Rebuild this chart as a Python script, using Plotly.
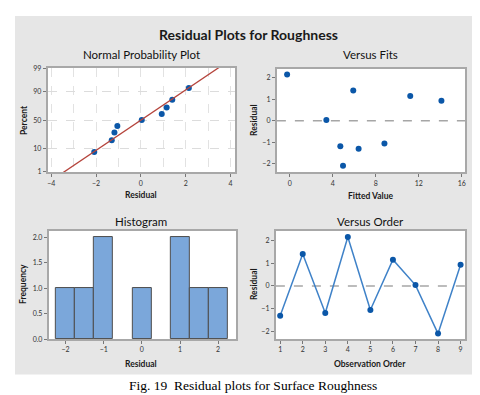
import numpy as np
import plotly.graph_objects as go
from statistics import NormalDist

# ---------------- data ----------------
obs_order = [1, 2, 3, 4, 5, 6, 7, 8, 9]
residuals = [-1.30, 1.40, -1.18, 2.14, -1.05, 1.15, 0.04, -2.08, 0.93]
fitted_values = [6.4, 5.9, 4.7, -0.25, 8.8, 11.2, 3.4, 4.95, 14.1]
prob_percent = [7.45, 18.09, 28.72, 39.36, 50.0, 60.64, 71.28, 81.91, 92.55]
prob_ticks = [1, 10, 50, 90, 99]

W, H = 480, 395
ND = NormalDist()

def px(x):
    return x / W

def py(y):
    return 1 - y / H

BLUE = "#0b57a8"
LINE_BLUE = "#3f82c8"
RED = "#b5443c"
BORDER = "#a8a8a8"
FONT = "Lato"
TICKF = dict(family=FONT, size=7, color="#333")

fig = go.Figure()

# domains (px)
dom = {
    1: ((39, 227), (57, 163)),
    2: ((269, 458), (58, 163)),
    3: ((40, 228), (223, 333)),
    4: ((268, 458), (223, 333)),
}

# --- Normal probability plot ---
sorted_res = sorted(residuals)
z_pts = [ND.inv_cdf(p / 100) for p in prob_percent]
fig.add_trace(go.Scatter(x=sorted_res, y=z_pts, mode="markers",
                         marker=dict(color=BLUE, size=6),
                         xaxis="x", yaxis="y", showlegend=False))
mu = float(np.mean(residuals))
sd = float(np.std(residuals, ddof=1))
zmin, zmax = ND.inv_cdf(0.01), ND.inv_cdf(0.99)
lx = [mu + sd * zmin * 1.05, mu + sd * zmax * 1.05]
lz = [(v - mu) / sd for v in lx]
fig.add_trace(go.Scatter(x=lx, y=lz, mode="lines", line=dict(color=RED, width=1.3),
                         xaxis="x", yaxis="y", showlegend=False, cliponaxis=True))

# --- Versus fits ---
fig.add_trace(go.Scatter(x=fitted_values, y=residuals, mode="markers",
                         marker=dict(color=BLUE, size=6),
                         xaxis="x2", yaxis="y2", showlegend=False))

# --- Histogram ---
fig.add_trace(go.Histogram(x=residuals, xbins=dict(start=-2.25, end=2.25, size=0.5),
                           marker=dict(color="#7ba7da", line=dict(color="#4d4d4d", width=1)),
                           xaxis="x3", yaxis="y3", showlegend=False))

# --- Versus order ---
fig.add_trace(go.Scatter(x=obs_order, y=residuals, mode="lines+markers",
                         line=dict(color=LINE_BLUE, width=1.5),
                         marker=dict(color=BLUE, size=6),
                         xaxis="x4", yaxis="y4", showlegend=False))

def axis_common():
    return dict(showline=True, mirror=True, linecolor=BORDER, linewidth=2,
                ticks="outside", ticklen=3, tickcolor="#777", tickwidth=1,
                tickfont=TICKF, zeroline=False)

lay = {}
# axis 1
(xa, xb), (ya, yb) = dom[1]
lay["xaxis"] = dict(axis_common(), domain=[px(xa), px(xb)], anchor="y",
                    range=[-4.15, 4.2], tickvals=[-4, -2, 0, 2, 4],
                    showgrid=False)
lay["yaxis"] = dict(axis_common(), domain=[py(yb), py(ya)], anchor="x",
                    range=[zmin - 0.02, zmax + 0.02],
                    tickvals=[ND.inv_cdf(t / 100) for t in prob_ticks],
                    ticktext=[str(t) for t in prob_ticks],
                    showgrid=True, gridcolor="#dcdcdc", griddash="dash", gridwidth=1)
lay["xaxis"]["minor"] = dict(dtick=1, tick0=0, showgrid=True, gridcolor="#e2e2e2",
                             griddash="dash", ticks="")
# axis 2
(xa, xb), (ya, yb) = dom[2]
lay["xaxis2"] = dict(axis_common(), domain=[px(xa), px(xb)], anchor="y2",
                     range=[-1.2, 16.3], tickvals=[0, 4, 8, 12, 16], showgrid=False)
lay["yaxis2"] = dict(axis_common(), domain=[py(yb), py(ya)], anchor="x2",
                     range=[-2.38, 2.4], tickvals=[-2, -1, 0, 1, 2], showgrid=False)
# axis 3
(xa, xb), (ya, yb) = dom[3]
lay["xaxis3"] = dict(axis_common(), domain=[px(xa), px(xb)], anchor="y3",
                     range=[-2.44, 2.47], tickvals=[-2, -1, 0, 1, 2], showgrid=False)
lay["yaxis3"] = dict(axis_common(), domain=[py(yb), py(ya)], anchor="x3",
                     range=[0, 2.12], tickvals=[0, 0.5, 1, 1.5, 2], tickformat=".1f",
                     showgrid=False)
# axis 4
(xa, xb), (ya, yb) = dom[4]
lay["xaxis4"] = dict(axis_common(), domain=[px(xa), px(xb)], anchor="y4",
                     range=[0.81, 9.2], tickvals=obs_order, showgrid=False)
lay["yaxis4"] = dict(axis_common(), domain=[py(yb), py(ya)], anchor="x4",
                     range=[-2.32, 2.4], tickvals=[-2, -1, 0, 1, 2], showgrid=False)

shapes = [dict(type="rect", xref="paper", yref="paper", x0=px(6), x1=px(467),
               y0=py(369), y1=py(4), fillcolor="#e6e6e6", line=dict(width=0),
               layer="below")]
for k in dom:
    (xa, xb), (ya, yb) = dom[k]
    shapes.append(dict(type="rect", xref="paper", yref="paper", x0=px(xa), x1=px(xb),
                       y0=py(yb), y1=py(ya), fillcolor="white", line=dict(width=0),
                       layer="below"))
# zero reference lines
for xr, yr in (("x2", "y2"), ("x4", "y4")):
    shapes.append(dict(type="line", xref=f"{xr} domain", yref=yr, x0=0, x1=1, y0=0, y1=0,
                       line=dict(color="#a6a6a6", width=1.5, dash="dash"), layer="below"))

ann = []
def text(t, x, y, size, color="#1a1a1a", angle=0, family=FONT, bold=False):
    ann.append(dict(text=f"<b>{t}</b>" if bold else t, x=px(x), y=py(y), xref="paper", yref="paper",
                    showarrow=False, xanchor="center", yanchor="middle", textangle=angle,
                    font=dict(family=family, size=size, color=color)))

text("Residual Plots for Roughness", 240, 23, 14, bold=True)
text("Normal Probability Plot", 133, 43, 11.5, color="#111")
text("Versus Fits", 363, 43, 11.5, color="#111")
text("Histogram", 133, 213, 11.5, color="#111")
text("Versus Order", 363, 213, 11.5, color="#111")
text("Residual", 133, 186, 8.5, bold=True)
text("Fitted Value", 363, 187, 8.5, bold=True)
text("Residual", 133, 358, 8.5, bold=True)
text("Observation Order", 363, 358, 8.5, bold=True)
text("Percent", 15, 110, 8.5, angle=-90, bold=True)
text("Residual", 246, 110, 8.5, angle=-90, bold=True)
text("Frequency", 14, 277, 8.5, angle=-90, bold=True)
text("Residual", 246, 277, 8.5, angle=-90, bold=True)
text("Fig. 19  Residual plots for Surface Roughness", 245, 380, 13.5, color="#000",
     family="Liberation Serif")

fig.update_layout(width=W, height=H, margin=dict(l=0, r=0, t=0, b=0),
                  paper_bgcolor="white", plot_bgcolor="white",
                  shapes=shapes, annotations=ann, bargap=0, **lay)

fig.write_html("out.html")
